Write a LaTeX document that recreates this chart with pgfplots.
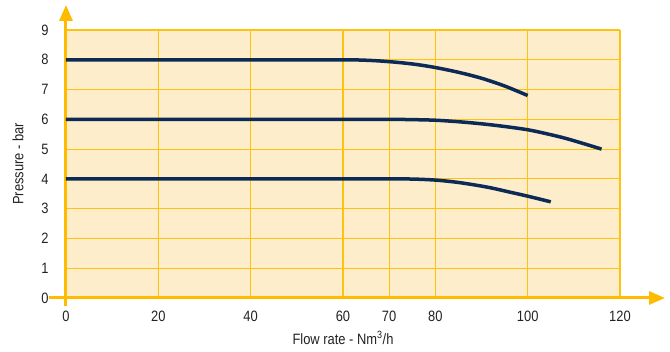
\documentclass[border=0pt]{standalone}
\usepackage{fontspec}
\setmainfont{Liberation Sans}[FakeStretch=0.86]
\usepackage{pgfplots}
\pgfplotsset{compat=1.18}
\usetikzlibrary{arrows.meta}
\definecolor{bgc}{HTML}{FDEDCB}
\definecolor{gridc}{HTML}{FFC20E}
\definecolor{axc}{HTML}{FFBB00}
\definecolor{navy}{HTML}{0B2A55}
\definecolor{txt}{HTML}{222222}
\begin{document}
\begin{tikzpicture}
\begin{axis}[
  name=ax,
  scale only axis, width=554pt, height=268pt,
  xmin=0, xmax=120, ymin=0, ymax=9,
  xtick={0,20,40,60,70,80,100,120},
  ytick={0,1,2,3,4,5,6,7,8,9},
  axis x line=bottom, axis y line=left,
  grid=major,
  major grid style={color=gridc, line width=1.2pt},
  axis background/.style={fill=bgc},
  major tick length=0pt,
  /pgf/number format/assume math mode=true,
  tick label style={font=\fontsize{15}{18}\selectfont, text=txt},
  xticklabel style={yshift=-9pt},
  yticklabel style={xshift=-14pt},
  x axis line style={line width=3pt, color=axc, -{Triangle[length=16pt,width=13pt]}, shorten >=-45pt, shorten <=-17pt},
  y axis line style={line width=3pt, color=axc, -{Triangle[length=16pt,width=13pt]}, shorten >=-25pt, shorten <=-8pt},
  xlabel={Flow rate - Nm\textsuperscript{3}/h},
  ylabel={Pressure - bar},
  every axis x label/.style={at={(axis description cs:0.5,0)}, anchor=center, yshift=-40pt, font=\fontsize{15}{18}\selectfont, text=txt},
  every axis y label/.style={at={(axis description cs:0,0.5)}, anchor=center, rotate=90, yshift=48pt, font=\fontsize{15}{18}\selectfont, text=txt},
  clip=false,
]
\addplot[navy, line width=3.5pt, smooth, tension=0.5] coordinates {
 (0,8) (52,8) (60,8) (64,7.99) (68,7.96) (72,7.91) (76,7.84) (80,7.74) (85,7.58) (90,7.38) (95,7.12) (100,6.8)
};
\addplot[navy, line width=3.5pt, smooth, tension=0.5] coordinates {
 (0,6) (62,6) (70,6) (75,5.99) (80,5.97) (85,5.92) (90,5.85) (95,5.76) (100,5.65) (104,5.52) (108,5.37) (112,5.19) (116,5.0)
};
\addplot[navy, line width=3.5pt, smooth, tension=0.5] coordinates {
 (0,4) (62,4) (72,4) (76,3.99) (80,3.96) (84,3.9) (88,3.81) (92,3.7) (96,3.56) (100,3.42) (105,3.23)
};
\end{axis}
\pgfresetboundingbox
\path (ax.south west) ++(-66pt,-54pt) rectangle ++(670pt,352pt);
\end{tikzpicture}
\end{document}
